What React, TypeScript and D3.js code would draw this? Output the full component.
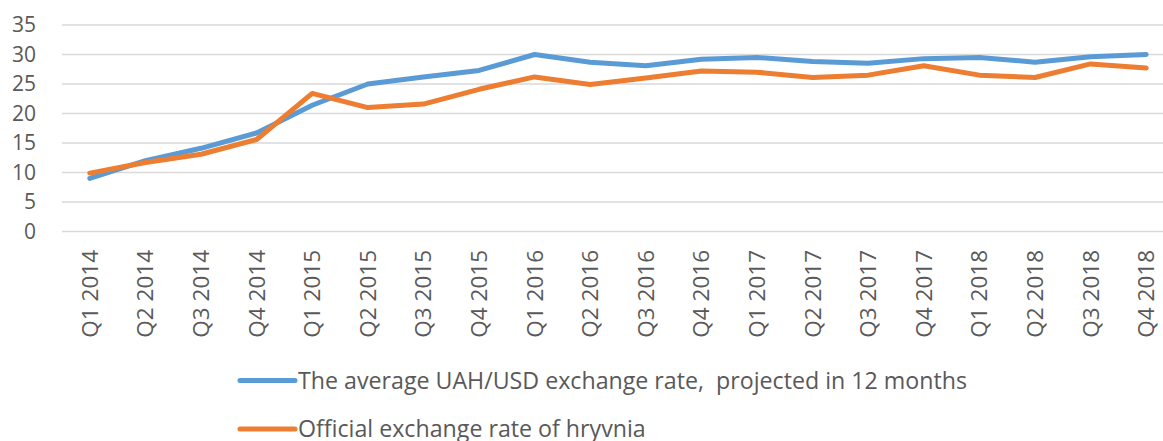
import React from "react";
import * as d3 from "d3";

const categories = [
  "Q1 2014", "Q2 2014", "Q3 2014", "Q4 2014",
  "Q1 2015", "Q2 2015", "Q3 2015", "Q4 2015",
  "Q1 2016", "Q2 2016", "Q3 2016", "Q4 2016",
  "Q1 2017", "Q2 2017", "Q3 2017", "Q4 2017",
  "Q1 2018", "Q2 2018", "Q3 2018", "Q4 2018",
];
const projected = [
  9.0, 12.0, 14.1, 16.7, 21.4, 25.0, 26.2, 27.3, 30.0, 28.7,
  28.1, 29.2, 29.5, 28.8, 28.5, 29.3, 29.5, 28.7, 29.6, 30.0,
];
const official = [
  9.9, 11.7, 13.1, 15.6, 23.4, 21.0, 21.6, 24.1, 26.2, 24.9,
  26.0, 27.2, 27.0, 26.1, 26.5, 28.1, 26.5, 26.1, 28.4, 27.7,
];
const yTicks = [0, 5, 10, 15, 20, 25, 30, 35];
const seriesNames = [
  "The average UAH/USD exchange rate,  projected in 12 months",
  "Official exchange rate of hryvnia",
];
const colors = ["#5B9BD5", "#ED7D31"];

export default function App() {
  const W = 1163, H = 441;
  const font = "'Open Sans', 'Noto Sans', sans-serif";
  const x = d3.scaleBand<string>().domain(categories).range([62, 1174]);
  const y = d3.scaleLinear().domain([0, 35]).range([231.5, 25]);
  const line = d3
    .line<number>()
    .x((_, i) => (x(categories[i]) as number) + x.bandwidth() / 2)
    .y((d) => y(d));
  const series = [projected, official];
  return (
    <svg
      width={W}
      height={H}
      style={{ position: "absolute", left: 0, top: 0, background: "#fff" }}
      fontFamily={font}
    >
      {yTicks.map((t) => (
        <g key={t}>
          <line x1={62} x2={1163} y1={y(t)} y2={y(t)} stroke="#D9D9D9" strokeWidth={1.5} />
          <text x={36} y={y(t)} dy="0.35em" textAnchor="end" fontSize={21} fill="#595959">
            {t}
          </text>
        </g>
      ))}
      {categories.map((c) => {
        const cx = (x(c) as number) + x.bandwidth() / 2;
        return (
          <text
            key={c}
            transform={`translate(${cx + 8},${250}) rotate(-90)`}
            textAnchor="end"
            fontSize={22.5}
            fill="#595959"
          >
            {c}
          </text>
        );
      })}
      {series.map((s, i) => (
        <path
          key={i}
          d={line(s) || ""}
          fill="none"
          stroke={colors[i]}
          strokeWidth={5}
          strokeLinecap="round"
          strokeLinejoin="round"
        />
      ))}
      {seriesNames.map((n, i) => {
        const ly = 380.5 + i * 48.5;
        return (
          <g key={n}>
            <line x1={240} x2={295} y1={ly} y2={ly} stroke={colors[i]} strokeWidth={5} strokeLinecap="round" />
            <text
              x={298}
              y={ly + 8}
              fontSize={23.2}
              fill="#595959"
              style={{ whiteSpace: "pre" }}
            >
              {n}
            </text>
          </g>
        );
      })}
    </svg>
  );
}
